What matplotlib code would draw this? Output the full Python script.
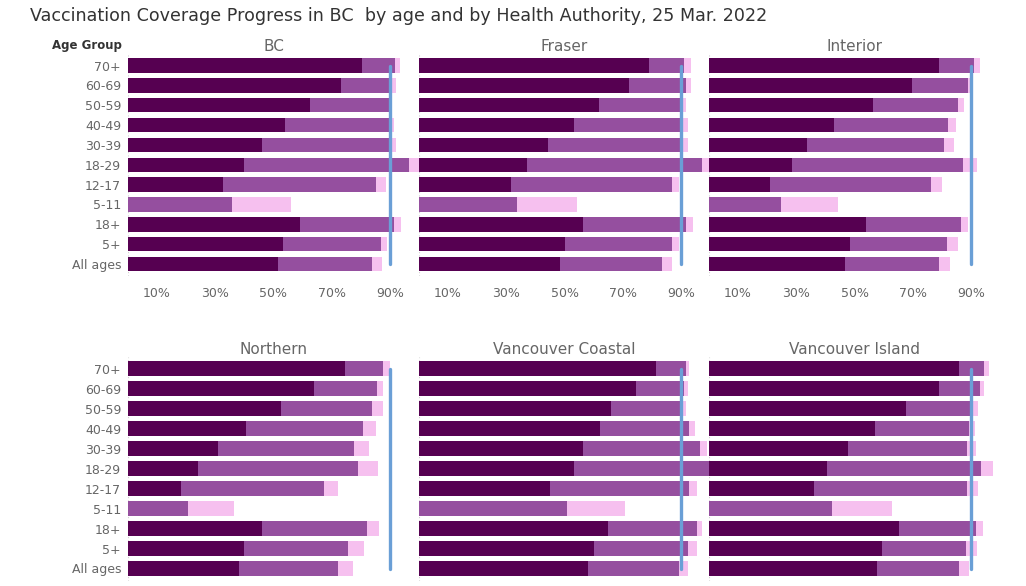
import matplotlib
matplotlib.use("Agg")
import matplotlib.pyplot as plt

# ---------------- data ----------------
age_groups = ["70+", "60-69", "50-59", "40-49", "30-39", "18-29",
              "12-17", "5-11", "18+", "5+", "All ages"]
regions = ["BC", "Fraser", "Interior", "Northern", "Vancouver Coastal", "Vancouver Island"]

# coverage (%) with 3 doses, 2 doses, at least 1 dose
bc_dose3 = [80.5, 73.1, 62.4, 53.9, 46.0, 39.8, 32.5, 0.0, 59.0, 53.2, 51.5]
bc_dose2 = [91.6, 90.8, 90.1, 90.1, 90.5, 96.4, 85.1, 35.9, 91.3, 86.8, 83.7]
bc_dose1 = [93.3, 92.2, 90.8, 91.3, 92.2, 100.5, 88.5, 55.9, 93.7, 89.1, 87.4]

fraser_dose3 = [79.2, 72.3, 62.0, 53.4, 44.4, 37.2, 31.7, 0.0, 56.5, 50.3, 48.5]
fraser_dose2 = [91.2, 91.9, 90.5, 90.8, 90.5, 97.1, 87.1, 33.7, 91.9, 87.1, 83.6]
fraser_dose1 = [93.3, 93.3, 91.9, 92.6, 92.6, 100.5, 89.2, 54.4, 94.0, 89.2, 87.1]

interior_dose3 = [79.0, 69.7, 56.2, 43.1, 33.8, 28.6, 21.0, 0.0, 54.1, 48.3, 46.9]
interior_dose2 = [91.0, 89.0, 85.5, 82.1, 80.7, 87.2, 76.2, 24.8, 86.6, 81.7, 79.0]
interior_dose1 = [93.1, 89.7, 87.6, 84.8, 84.1, 92.1, 80.0, 44.5, 89.0, 85.5, 82.8]

northern_dose3 = [74.4, 63.8, 52.5, 40.5, 30.9, 24.0, 18.2, 0.0, 46.0, 39.8, 38.1]
northern_dose2 = [87.8, 85.4, 84.0, 80.6, 77.5, 78.9, 67.2, 20.6, 82.0, 75.5, 72.0]
northern_dose1 = [90.1, 87.8, 87.5, 85.1, 82.7, 85.8, 72.0, 36.4, 86.4, 81.0, 77.2]

vcoastal_dose3 = [81.6, 74.7, 66.1, 62.3, 56.5, 53.4, 45.1, 0.0, 65.1, 60.2, 58.2]
vcoastal_dose2 = [91.6, 91.2, 90.5, 92.9, 96.4, 101.0, 92.9, 50.9, 95.4, 92.6, 89.5]
vcoastal_dose1 = [92.9, 92.6, 91.9, 95.0, 98.8, 103.0, 95.7, 70.9, 97.4, 95.7, 92.6]

visland_dose3 = [85.9, 79.0, 67.6, 56.9, 47.9, 40.7, 36.2, 0.0, 65.2, 59.3, 57.6]
visland_dose2 = [94.5, 93.1, 90.7, 89.3, 88.6, 93.4, 88.6, 42.1, 91.7, 88.3, 85.9]
visland_dose1 = [96.2, 94.5, 92.4, 91.4, 91.7, 97.6, 92.4, 62.8, 94.1, 92.1, 89.3]

target = 90
xticks = [10, 30, 50, 70, 90]
xtick_labels = ["10%", "30%", "50%", "70%", "90%"]

series = [
    (bc_dose3, bc_dose2, bc_dose1),
    (fraser_dose3, fraser_dose2, fraser_dose1),
    (interior_dose3, interior_dose2, interior_dose1),
    (northern_dose3, northern_dose2, northern_dose1),
    (vcoastal_dose3, vcoastal_dose2, vcoastal_dose1),
    (visland_dose3, visland_dose2, visland_dose1),
]

# ---------------- style ----------------
C_DARK = "#560051"
C_MID = "#954f9f"
C_PINK = "#f6c0ef"
C_LINE = "#6a9fd6"
C_TEXT = "#666666"

W, H = 1026, 586
fig = plt.figure(figsize=(W / 100, H / 100), dpi=100)

lefts = [128, 419, 709]
pw = 291
tops = [53.6, 356.5]
ph = [222.3, 224.0]

ypos = list(range(len(age_groups)))

for k, reg in enumerate(regions):
    r, c = divmod(k, 3)
    x0 = lefts[c]
    top = tops[r]
    h = ph[r]
    ax = fig.add_axes([x0 / W, 1 - (top + h) / H, pw / W, h / H])
    d3, d2, d1 = series[k]
    ax.barh(ypos, d1, height=0.73, color=C_PINK, zorder=2)
    ax.barh(ypos, d2, height=0.73, color=C_MID, zorder=3)
    ax.barh(ypos, d3, height=0.73, color=C_DARK, zorder=4)
    ax.plot([target, target], [0, len(age_groups) - 1], color=C_LINE, lw=2.4,
            solid_capstyle="round", zorder=5)
    ax.axvline(0, color="#d0d0d0", lw=0.8, ls=(0, (1, 2)), zorder=1)
    ax.set_xlim(0, 100)
    ax.set_ylim(len(age_groups) - 0.4, -0.6)
    for s in ax.spines.values():
        s.set_visible(False)
    ax.tick_params(length=0)
    ax.set_title(reg, fontsize=11, color=C_TEXT, pad=1)
    if c == 0:
        ax.set_yticks(ypos)
        ax.set_yticklabels(age_groups, fontsize=9, color=C_TEXT)
        ax.tick_params(axis="y", pad=5)
    else:
        ax.set_yticks([])
    if r == 0:
        ax.set_xticks(xticks)
        ax.set_xticklabels(xtick_labels, fontsize=9, color=C_TEXT)
        ax.tick_params(axis="x", pad=8)
    else:
        ax.set_xticks([])

fig.text(122 / W, 1 - 46 / H, "Age Group", ha="right", va="center",
         fontsize=8.5, fontweight="bold", color="#333333")
fig.text(30 / W, 1 - 16 / H,
         "Vaccination Coverage Progress in BC  by age and by Health Authority, 25 Mar. 2022",
         ha="left", va="center", fontsize=12.6, color="#333333")

fig.savefig("out.png", dpi=100)
